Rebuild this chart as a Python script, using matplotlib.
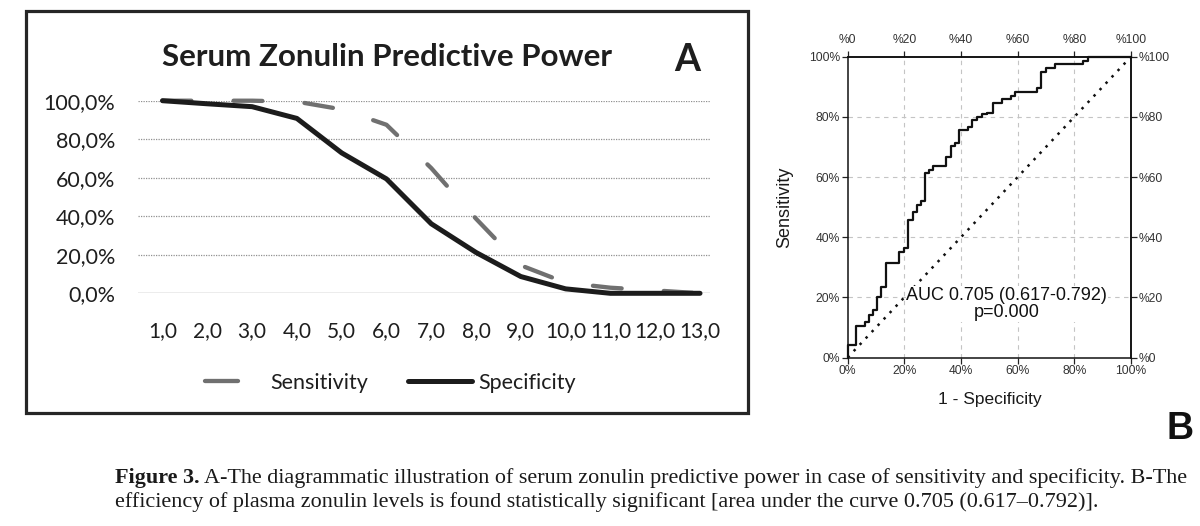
import numpy as np
import matplotlib
matplotlib.use("Agg")
import matplotlib.pyplot as plt
from matplotlib.lines import Line2D
from matplotlib.patches import Rectangle

plt.rcParams["font.family"] = ["Liberation Sans", "DejaVu Sans"]

# panel A: cut-off points and the two curves (in %)
cutoffs = [1, 2, 3, 4, 5, 6, 7, 8, 9, 10, 11, 12, 13]
cutoff_labels = ["1,0", "2,0", "3,0", "4,0", "5,0", "6,0", "7,0", "8,0", "9,0",
                 "10,0", "11,0", "12,0", "13,0"]
sensitivity = [100, 100, 100, 99.5, 95.5, 87.5, 65.0, 38.7, 14.5, 5.5, 2.9, 1.5, 0]
specificity = [100, 98.4, 96.9, 90.8, 72.9, 59.4, 36.1, 21.2, 8.7, 2.3, 0, 0, 0]
pct_ticks = [0, 20, 40, 60, 80, 100]
pct_labels_a = ["0,0%", "20,0%", "40,0%", "60,0%", "80,0%", "100,0%"]

# panel B: ROC curve vertices (1 - specificity, sensitivity)
roc_fpr = [0, 0, 0.029, 0.029, 0.061, 0.061, 0.076, 0.076, 0.090, 0.090, 0.102, 0.102,
           0.116, 0.116, 0.134, 0.134, 0.182, 0.182, 0.200, 0.200, 0.212, 0.212, 0.232,
           0.232, 0.246, 0.246, 0.259, 0.259, 0.273, 0.273, 0.288, 0.288, 0.302, 0.302,
           0.346, 0.346, 0.363, 0.363, 0.379, 0.379, 0.394, 0.394, 0.424, 0.424, 0.438,
           0.438, 0.455, 0.455, 0.473, 0.473, 0.493, 0.493, 0.512, 0.512, 0.543, 0.543,
           0.576, 0.576, 0.590, 0.590, 0.667, 0.667, 0.682, 0.682, 0.699, 0.699, 0.730,
           0.730, 0.832, 0.832, 0.849, 0.849, 1.0]
roc_tpr = [0, 0.042, 0.042, 0.106, 0.106, 0.119, 0.119, 0.141, 0.141, 0.158, 0.158, 0.202,
           0.202, 0.233, 0.233, 0.315, 0.315, 0.352, 0.352, 0.363, 0.363, 0.457, 0.457,
           0.484, 0.484, 0.507, 0.507, 0.521, 0.521, 0.612, 0.612, 0.625, 0.625, 0.636,
           0.636, 0.665, 0.665, 0.703, 0.703, 0.712, 0.712, 0.756, 0.756, 0.767, 0.767,
           0.790, 0.790, 0.800, 0.800, 0.809, 0.809, 0.814, 0.814, 0.847, 0.847, 0.858,
           0.858, 0.871, 0.871, 0.883, 0.883, 0.897, 0.897, 0.950, 0.950, 0.961, 0.961,
           0.975, 0.975, 0.986, 0.986, 1.0, 1.0]
roc_ticks = [0, 0.2, 0.4, 0.6, 0.8, 1.0]
roc_labels = ["0%", "20%", "40%", "60%", "80%", "100%"]
roc_labels_tr = ["%0", "%20", "%40", "%60", "%80", "%100"]
auc_text = "AUC 0.705 (0.617-0.792)\np=0.000"

W, H = 1200, 526
fig = plt.figure(figsize=(W / 100, H / 100), dpi=100)


def fx(px):
    return px / W


def fy(py):
    return 1 - py / H


# ---------------- panel A ----------------
fig.patches.append(Rectangle((fx(26), fy(413)), fx(748) - fx(26), fy(11) - fy(413),
                             transform=fig.transFigure, fill=False,
                             lw=2.3, ec="#262626", zorder=0))

axA = fig.add_axes([fx(138), fy(293.3), fx(710) - fx(138), fy(100.7) - fy(293.3)])
axA.plot(cutoffs, sensitivity, color="#707070", lw=3.1, ls=(0, (6.7, 9.8)),
         dash_capstyle="round", solid_capstyle="round", clip_on=False, zorder=3)
axA.plot(cutoffs, specificity, color="#1c1c1c", lw=3.6, solid_capstyle="round",
         solid_joinstyle="round", clip_on=False, zorder=4)
axA.set_xlim(0.453, 13.223)
axA.set_ylim(0, 100)
for s in axA.spines.values():
    s.set_visible(False)
for v in pct_ticks[1:]:
    axA.axhline(v, color="#909090", lw=0.9, ls=(0, (1, 1)), zorder=1)
axA.axhline(0, color="#a0a0a0", lw=1.0, zorder=1)
axA.set_yticks(pct_ticks)
axA.set_yticklabels(pct_labels_a)
axA.set_xticks(cutoffs)
axA.set_xticklabels(cutoff_labels)
axA.tick_params(axis="y", length=0, pad=16.5, labelsize=15.5, labelcolor="#1e1e1e")
axA.tick_params(axis="x", length=0, pad=20, labelsize=15, labelcolor="#1e1e1e")
for t in axA.get_xticklabels() + axA.get_yticklabels():
    t.set_family("Lato")

fig.text(fx(387), fy(57), "Serum Zonulin Predictive Power", family="Lato",
         fontweight="bold", fontsize=22.5, ha="center", va="center", color="#1e1e1e")
fig.text(fx(687), fy(60), "A", family="Lato", fontweight="bold", fontsize=27,
         ha="center", va="center", color="#1e1e1e")

h_sens = Line2D([], [], color="#707070", lw=3.1, solid_capstyle="round")
h_spec = Line2D([], [], color="#1c1c1c", lw=3.6, solid_capstyle="round")
leg_kw = dict(frameon=False, loc="center left", borderpad=0, borderaxespad=0,
              prop={"family": "Lato", "size": 15.5})
leg1 = fig.legend([h_sens], ["Sensitivity"], bbox_to_anchor=(fx(205), fy(383)),
                  handlelength=1.55, handletextpad=1.5, **leg_kw)
leg2 = fig.legend([h_spec], ["Specificity"], bbox_to_anchor=(fx(408), fy(383)),
                  handlelength=2.95, handletextpad=0.3, **leg_kw)
for leg in (leg1, leg2):
    for t in leg.get_texts():
        t.set_color("#1e1e1e")

# ---------------- panel B ----------------
axB = fig.add_axes([fx(847.7), fy(357.5), fx(1131) - fx(847.7), fy(56.7) - fy(357.5)])
axB.set_xlim(0, 1)
axB.set_ylim(0, 1)
for v in roc_ticks[1:-1]:
    axB.axvline(v, color="#c4c4c4", lw=0.8, ls=(0, (4, 4)), zorder=1)
    axB.axhline(v, color="#c4c4c4", lw=0.8, ls=(0, (4, 4)), zorder=1)
axB.plot([0, 1], [0, 1], color="#111111", lw=1.8, ls=(0, (1, 2.5)),
         dash_capstyle="butt", zorder=2, clip_on=False)
axB.plot(roc_fpr, roc_tpr, color="#111111", lw=1.6, zorder=3, clip_on=False)
for s in axB.spines.values():
    s.set_linewidth(1.1)
    s.set_color("#111111")

tick_kw = dict(direction="out", length=4.5, width=0.9, color="#222222",
               labelsize=8.7, labelcolor="#333333", pad=1)
axB.set_xticks(roc_ticks)
axB.set_xticklabels(roc_labels)
axB.set_yticks(roc_ticks)
axB.set_yticklabels(roc_labels)
axB.tick_params(**tick_kw)

top = axB.secondary_xaxis("top")
top.set_xticks(roc_ticks)
top.set_xticklabels(roc_labels_tr)
top.tick_params(**{**tick_kw, "pad": 3.5})
right = axB.secondary_yaxis("right")
right.set_yticks(roc_ticks)
right.set_yticklabels(roc_labels_tr)
right.tick_params(**tick_kw)
for a in (top, right):
    for s in a.spines.values():
        s.set_linewidth(1.1)

axB.set_xlabel("1 - Specificity", fontsize=12.5, color="#1a1a1a")
axB.xaxis.set_label_coords(0.5, -0.141)
axB.xaxis.label.set_va("center")
axB.set_ylabel("Sensitivity", fontsize=13, color="#1a1a1a")
axB.yaxis.set_label_coords(-0.221, 0.5)
axB.yaxis.label.set_va("center")

axB.text(0.562, 0.178, auc_text, transform=axB.transAxes, ha="center", va="center",
         fontsize=13, color="#111111", linespacing=1.0, zorder=5,
         bbox=dict(facecolor="white", edgecolor="none", pad=0.5))

fig.text(fx(1180), fy(429), "B", fontweight="bold",
         fontsize=27, ha="center", va="center", color="#111111")

# ---------------- caption ----------------
cap_size = 15.9
b1 = fig.text(fx(115), fy(483), "Figure 3.", family="Liberation Serif",
              fontweight="bold", fontsize=cap_size, va="baseline", color="#1a1a1a")
fig.canvas.draw()
bb = b1.get_window_extent()
fig.text((bb.x1 + 4) / W, fy(483),
         "A-The diagrammatic illustration of serum zonulin predictive power in case of "
         "sensitivity and specificity. B-The",
         family="Liberation Serif", fontsize=cap_size, va="baseline", color="#1a1a1a")
fig.text(fx(115), fy(507),
         "efficiency of plasma zonulin levels is found statistically significant "
         "[area under the curve 0.705 (0.617\u20130.792)].",
         family="Liberation Serif", fontsize=cap_size, va="baseline", color="#1a1a1a")

fig.savefig("out.png", dpi=100)
